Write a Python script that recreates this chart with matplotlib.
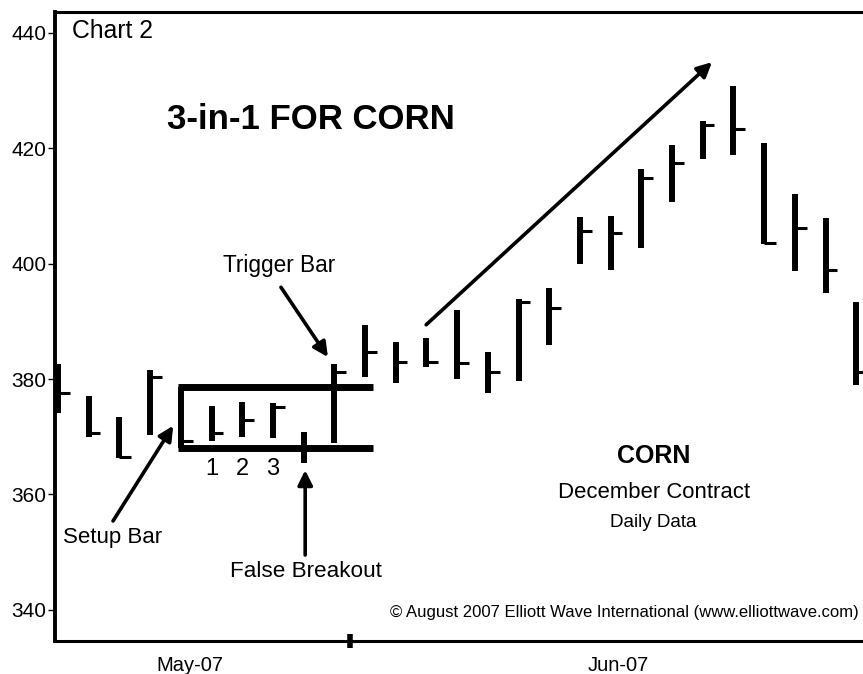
import matplotlib
matplotlib.use("Agg")
import matplotlib.pyplot as plt

plt.rcParams['font.family'] = ['Liberation Sans', 'DejaVu Sans']

# daily bars, Dec corn
highs = [382.6, 377.1, 373.4, 381.6, 378.7, 375.3, 376.0, 375.8, 370.8, 382.6,
         389.4, 386.4, 387.1, 392.0, 384.7, 393.9, 395.8, 408.1, 408.2, 416.4,
         420.6, 424.7, 430.8, 420.9, 412.1, 407.9, 393.3]
lows = [374.1, 370.0, 366.3, 370.3, 368.1, 369.3, 370.0, 369.8, 365.4, 368.9,
        380.3, 379.3, 382.1, 380.0, 377.6, 379.7, 385.9, 399.9, 398.9, 402.7,
        410.7, 418.1, 418.9, 403.4, 398.8, 394.9, 379.0]
closes = [377.6, 370.6, 366.5, 380.3, 369.3, 370.6, 372.9, 375.1, 368.1, 381.2,
          384.7, 383.0, 383.0, 382.8, 381.2, 393.3, 392.3, 405.6, 405.3, 414.8,
          417.4, 424.0, 423.3, 403.6, 406.2, 398.9, 381.2]
days = list(range(len(highs)))

setup_idx = 4
inside_idx = [5, 6, 7]
inside_labels = ['1', '2', '3']

y_ticks = [340, 360, 380, 400, 420, 440]
month_labels = ['May-07', 'Jun-07']
month_pos = [4.3, 18.24]
month_break = 9.5

fig = plt.figure(figsize=(8.63, 6.74), dpi=100)
ax = fig.add_axes([55 / 863, 33 / 674, 808 / 863, 629 / 674])
ax.set_xlim(-0.1, 26.22)
ax.set_ylim(334.6, 443.6)

# bars
ax.vlines(days, lows, highs, color='black', lw=4.3, capstyle='butt')
ax.hlines(closes, days, [d + 0.38 for d in days], color='black', lw=2.2)

# setup bar box
box_end = 10.25
ax.hlines([highs[setup_idx], lows[setup_idx]], setup_idx - 0.1, box_end,
          color='black', lw=5, capstyle='butt')

for i, lab in zip(inside_idx, inside_labels):
    ax.text(i, 364.4, lab, fontsize=17, ha='center', va='center')

# texts
ax.text(0.46, 440.3, 'Chart 2', fontsize=17.8, ha='left', va='center')
ax.text(3.55, 424.9, '3-in-1 FOR CORN', fontsize=25, fontweight='bold',
        ha='left', va='center')
ax.text(19.4, 366.7, 'CORN', fontsize=18, fontweight='bold', ha='center', va='center')
ax.text(19.4, 360.4, 'December Contract', fontsize=15.9, ha='center', va='center')
ax.text(19.4, 355.2, 'Daily Data', fontsize=13.5, ha='center', va='center')
ax.text(10.82, 339.6, '\u00a9 August 2007 Elliott Wave International (www.elliottwave.com)',
        fontsize=12.0, ha='left', va='center', clip_on=False)

arrow = dict(arrowstyle='-|>', color='black', lw=2.6, mutation_scale=22,
             shrinkA=0, shrinkB=0)
ax.annotate('', xy=(3.75, 371.9), xytext=(1.79, 355.4), arrowprops=arrow)
ax.text(1.79, 352.6, 'Setup Bar', fontsize=16, ha='center', va='center')
ax.annotate('', xy=(8.05, 364.2), xytext=(8.05, 349.5), arrowprops=arrow)
ax.text(8.08, 346.6, 'False Breakout', fontsize=16.2, ha='center', va='center')
ax.annotate('', xy=(8.79, 383.8), xytext=(7.26, 395.9), arrowprops=arrow)
ax.text(7.2, 399.6, 'Trigger Bar', fontsize=16.3, ha='center', va='center')
ax.annotate('', xy=(21.3, 434.9), xytext=(11.99, 389.4), arrowprops=arrow)

# axes styling
ax.spines['right'].set_visible(False)
ax.spines['left'].set_linewidth(2.8)
ax.spines['top'].set_linewidth(2.2)
ax.spines['bottom'].set_linewidth(2.2)

ax.set_yticks(y_ticks)
ax.tick_params(axis='y', direction='out', length=5, width=1, pad=1, labelsize=15)
ax.set_xticks([month_break])
ax.set_xticklabels([''])
ax.tick_params(axis='x', which='major', direction='inout', length=10, width=4)
ax.set_xticks(month_pos, minor=True)
ax.set_xticklabels(month_labels, minor=True)
ax.tick_params(axis='x', which='minor', length=0, pad=10.5, labelsize=14.5)

fig.savefig('out.png', dpi=100)
